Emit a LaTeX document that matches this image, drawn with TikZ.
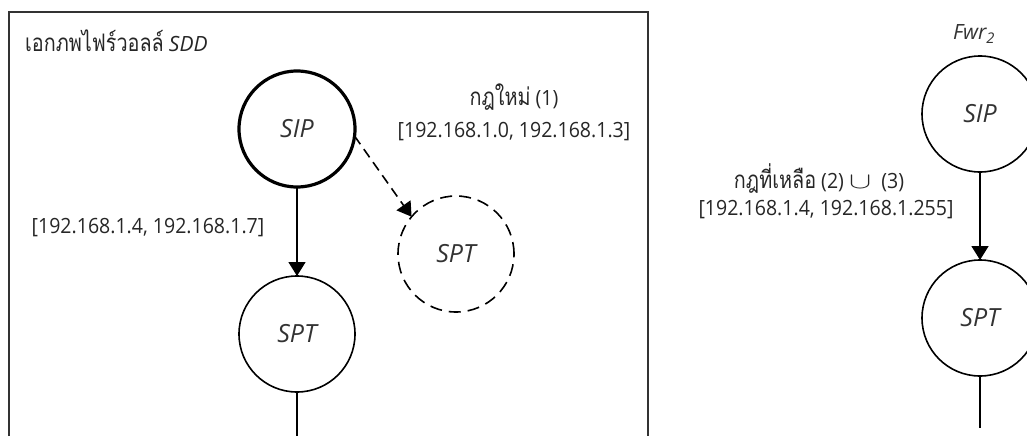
\documentclass[tikz,border=0pt]{standalone}
\usepackage{fontspec}
\usepackage{graphicx}
\setmainfont{Open Sans}
\newfontfamily\lblfont{Open Sans}[FakeStretch=0.93]
\newfontfamily\thaifont[Script=Thai,Scale=1.15,FakeStretch=0.82]{Loma}
\usetikzlibrary{arrows.meta}
\tikzset{
  st/.style={circle,draw,line width=1.6pt,minimum size=116pt,inner sep=0pt,outer sep=0pt,
    font=\fontsize{25}{29}\selectfont\itshape,text=black!80},
  stthick/.style={st,line width=3.2pt},
  stdash/.style={st,dash pattern=on 12pt off 7pt},
  conn/.style={line width=1.6pt,-{Triangle[length=14pt,width=17pt]}},
  plain/.style={line width=1.6pt},
  lbl/.style={font=\lblfont\fontsize{21}{25}\selectfont,inner sep=0pt,text=black!85,anchor=base},
}
\begin{document}
\begin{tikzpicture}[x=1pt,y=-1pt]
\useasboundingbox (0,0) rectangle (1027,436);
% universe box
\draw[line width=1.5pt,black!80] (9,436) -- (9,12) -- (648,12) -- (648,436);
\node[lbl,anchor=base west] (title) at (25,52) {{\thaifont เอกภพไฟร์วอลล์} {\normalfont\fontsize{21}{25}\selectfont\itshape SDD}};
% left graph
\node[stthick] (lsip) at (297,129) {SIP};
\node[st] (lspt) at (297,334) {SPT};
\node[stdash] (dspt) at (456,254) {SPT};
\coordinate (lend) at (297,436);
\draw[conn] (lsip) -- (lspt);
\draw[conn,dash pattern=on 10pt off 6pt] (lsip.-7) -- (dspt.140);
\draw[plain] (lspt) -- (lend);
\node[lbl] (newrule) at (514,105) {{\thaifont กฎใหม่} (1)};
\node[lbl] (newrange) at (514,137) {[192.168.1.0, 192.168.1.3]};
\node[lbl] (lrange) at (148,233) {[192.168.1.4, 192.168.1.7]};
% right graph
\node[inner sep=0pt,anchor=base,font=\fontsize{21}{25}\selectfont\itshape,text=black!80] (fwr) at (974,40) {Fwr\textsubscript{2}};
\node[st] (rsip) at (980,114) {SIP};
\node[st] (rspt) at (980,318) {SPT};
\coordinate (rend) at (980,428);
\draw[conn] (rsip) -- (rspt);
\draw[plain] (rspt) -- (rend);
\node[lbl] (rest) at (819,188) {{\thaifont กฎที่เหลือ} (2) \scalebox{1.6}[1.1]{$\cup$}\ \ (3)};
\node[lbl] (rrange) at (826,215) {[192.168.1.4, 192.168.1.255]};
\end{tikzpicture}
\end{document}
